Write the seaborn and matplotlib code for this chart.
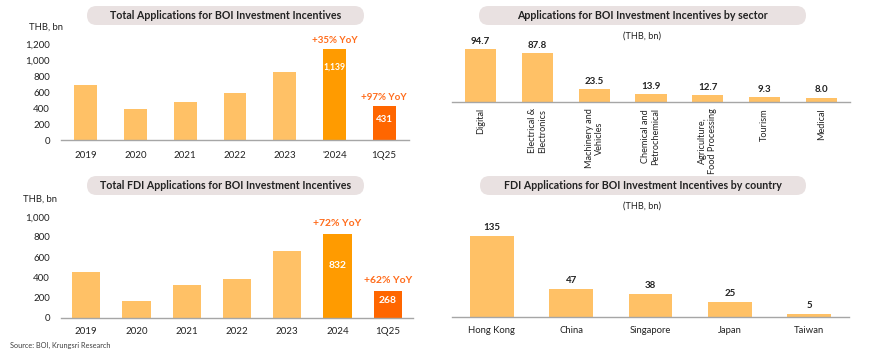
import matplotlib
matplotlib.use("Agg")
import matplotlib.pyplot as plt
import seaborn as sns
import pandas as pd
from matplotlib.patches import FancyBboxPatch

# ---------------- data ----------------
years_total = ["2019", "2020", "2021", "2022", "2023", "'2024", "1Q25"]
total_values = [690, 385, 470, 590, 850, 1139, 431]
total_labels = {5: "1,139", 6: "431"}
total_yoy = {5: "+35% YoY", 6: "+97% YoY"}

sectors = ["Digital", "Electrical &\nElectronics", "Machinery and\nVehicles",
           "Chemical and\nPetrochemical", "Agriculture,\nFood Processing",
           "Tourism", "Medical"]
sector_values = [94.7, 87.8, 23.5, 13.9, 12.7, 9.3, 8.0]

years_fdi = ["2019", "2020", "2021", "2022", "2023", "2024", "1Q25"]
fdi_values = [455, 170, 320, 385, 665, 832, 268]
fdi_labels = {5: "832", 6: "268"}
fdi_yoy = {5: "+72% YoY", 6: "+62% YoY"}

countries = ["Hong Kong", "China", "Singapore", "Japan", "Taiwan"]
country_values = [135, 47, 38, 25, 5]

# ---------------- style ----------------
LIGHT = "#FFC166"
MID = "#FF9B00"
DARK = "#FF6600"
YOY = "#FF6B1A"
PILL = "#E9E1E1"
TXT = "#222222"
AXC = "#A6A6A6"

sns.set_theme(style="white")
plt.rcParams["font.family"] = ["Lato", "DejaVu Sans"]

W, H = 870, 363
fig = plt.figure(figsize=(W / 100, H / 100), dpi=100)


def ax_px(x0, y_top, x1, y_bot):
    return fig.add_axes([x0 / W, 1 - y_bot / H, (x1 - x0) / W, (y_bot - y_top) / H])


def pill(x0, y0, x1, y1, text):
    h = (y1 - y0) / 100
    p = FancyBboxPatch((x0 / 100, (H - y1) / 100), (x1 - x0) / 100, h,
                       boxstyle=f"round,pad=0,rounding_size={h/2}",
                       transform=fig.dpi_scale_trans, fc=PILL, ec="none")
    fig.add_artist(p)
    fig.text((x0 + x1) / 2 / W, 1 - (y0 + y1) / 2 / H, text, ha="center", va="center",
             fontsize=7.7, fontweight="bold", color=TXT)


def style_axis(ax, show_y):
    for s in ["top", "right", "left"]:
        ax.spines[s].set_visible(False)
    ax.spines["bottom"].set_color(AXC)
    ax.spines["bottom"].set_linewidth(1.0)
    ax.set_xlabel("")
    ax.set_ylabel("")
    ax.tick_params(axis="x", length=0, colors=TXT, labelsize=7)
    ax.tick_params(axis="y", length=0, colors=TXT, labelsize=7, pad=8)
    ax.grid(False)
    if not show_y:
        ax.set_yticks([])
    ax.patch.set_alpha(0)


def bar(ax, cats, vals, colors, width):
    df = pd.DataFrame({"cat": cats, "val": vals})
    sns.barplot(data=df, x="cat", y="val", hue="cat", palette=colors, order=cats,
                hue_order=cats, legend=False, width=width, saturation=1, ax=ax,
                edgecolor="none")


# ---- top-left ----
ax1 = ax_px(61, 44, 409, 140)
bar(ax1, years_total, total_values, [LIGHT] * 5 + [MID, DARK], 0.46)
ax1.set_ylim(0, 1200)
ax1.set_yticks(range(0, 1201, 200))
ax1.set_yticklabels([f"{v:,}" for v in range(0, 1201, 200)])
style_axis(ax1, True)
ax1.tick_params(axis="x", pad=8)
for i, t in total_labels.items():
    v = total_values[i]
    frac = 0.8 if v > 1000 else 0.6
    fs = 6.2 if len(t) > 3 else 7
    ax1.text(i, v * frac, t, ha="center", va="center", color="white",
             fontsize=fs, fontweight="bold")
for i, t in total_yoy.items():
    ax1.annotate(t, (i, total_values[i]), xytext=(0, 6), textcoords="offset points",
                 ha="center", va="center", color=YOY, fontsize=7, fontweight="bold",
                 annotation_clip=False)
fig.text(29 / W, 1 - 27 / H, "THB, bn", ha="left", va="center", fontsize=6.8, color=TXT)
pill(87, 6, 364, 25, "Total Applications for BOI Investment Incentives")

# ---- bottom-left ----
ax3 = ax_px(61, 216.7, 413, 317.7)
bar(ax3, years_fdi, fdi_values, [LIGHT] * 5 + [MID, DARK], 0.56)
ax3.set_ylim(0, 1000)
ax3.set_yticks(range(0, 1001, 200))
ax3.set_yticklabels([f"{v:,}" for v in range(0, 1001, 200)])
style_axis(ax3, True)
ax3.tick_params(axis="x", pad=7)
for i, t in fdi_labels.items():
    v = fdi_values[i]
    ax3.text(i, v * 0.62, t, ha="center", va="center", color="white",
             fontsize=7.5, fontweight="bold")
for i, t in fdi_yoy.items():
    ax3.annotate(t, (i, fdi_values[i]), xytext=(0, 7), textcoords="offset points",
                 ha="center", va="center", color=YOY, fontsize=7.5, fontweight="bold",
                 annotation_clip=False)
fig.text(23 / W, 1 - 199 / H, "THB, bn", ha="left", va="center", fontsize=6.8, color=TXT)
pill(87, 176, 364, 195, "Total FDI Applications for BOI Investment Incentives")
fig.text(10 / W, 1 - 345 / H, "Source: BOI, Krungsri Research", ha="left", va="center",
         fontsize=5.3, color="#404040")

# ---- top-right ----
ax2 = ax_px(452, 46, 850, 102)
bar(ax2, sectors, sector_values, [LIGHT] * len(sectors), 0.55)
ax2.set_ylim(0, 100)
style_axis(ax2, False)
ax2.tick_params(axis="x", pad=4.3, labelsize=6.6)
plt.setp(ax2.get_xticklabels(), rotation=90, va="top", ha="center", multialignment="center",
         linespacing=1.15)
for i, v in enumerate(sector_values):
    ax2.annotate(f"{v:.1f}", (i, v), xytext=(0, 5.5), textcoords="offset points",
                 ha="center", va="center", color=TXT, fontsize=7, fontweight="bold",
                 annotation_clip=False)
fig.text(642 / W, 1 - 36 / H, "(THB, bn)", ha="center", va="center", fontsize=6.6, color=TXT)
pill(479, 6, 806, 25, "Applications for BOI Investment Incentives by sector")

# ---- bottom-right ----
ax4 = ax_px(452, 226.7, 849, 316.7)
bar(ax4, countries, country_values, [LIGHT] * len(countries), 0.55)
ax4.set_ylim(0, 150)
style_axis(ax4, False)
ax4.tick_params(axis="x", pad=7, labelsize=6.8)
for i, v in enumerate(country_values):
    ax4.annotate(f"{v:d}", (i, v), xytext=(0, 6), textcoords="offset points",
                 ha="center", va="center", color=TXT, fontsize=7, fontweight="bold",
                 annotation_clip=False)
fig.text(642 / W, 1 - 205.7 / H, "(THB, bn)", ha="center", va="center", fontsize=6.6, color=TXT)
pill(480, 176, 806, 195, "FDI Applications for BOI Investment Incentives by country")

fig.savefig("out.png", dpi=100, facecolor="white")
